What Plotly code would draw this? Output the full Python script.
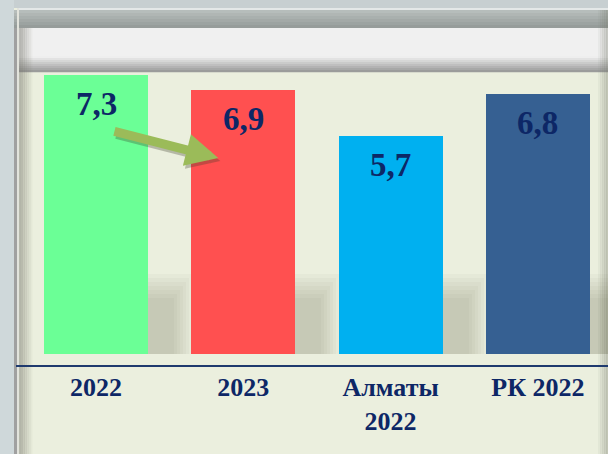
import plotly.graph_objects as go

# ---- data ----
categories = ["2022", "2023", "Алматы<br>2022", "РК 2022"]
values = [7.3, 6.9, 5.7, 6.8]
bar_colors = ["#6BFF96", "#FF5050", "#00B0F0", "#366092"]
value_labels = [f"{v:.1f}".replace(".", ",") for v in values]

# ---- styling ----
W, H = 608, 454
NAVY = "#0D2766"
BEIGE = "#EBEFDE"
FONT = "Liberation Serif"
xpos = list(range(len(categories)))

# pixel geometry of the plot area
PX_L, PX_R, PX_T, PX_B = 16, 608, 72, 365
CAT0_PX, CAT_STEP = 96, 147.3
BASE_PX, UNIT_PX = 354, 38.2
x_range = [(PX_L - CAT0_PX) / CAT_STEP, (PX_R - CAT0_PX) / CAT_STEP]
y_range = [-(PX_B - BASE_PX) / UNIT_PX, (BASE_PX - PX_T) / UNIT_PX]
BAR_W = 104 / CAT_STEP


def px(x):
    return x / W


def py(y):
    return 1 - y / H


def lerp(c0, c1, t):
    return "rgb(%d,%d,%d)" % tuple(round(a + (b - a) * t) for a, b in zip(c0, c1))


shapes = []


def rect(x0, y0, x1, y1, color, layer="below"):
    shapes.append(dict(type="rect", xref="paper", yref="paper",
                       x0=px(x0), x1=px(x1), y0=py(y1), y1=py(y0),
                       fillcolor=color, line=dict(width=0), layer=layer))


def vgrad(x0, y0, x1, y1, c0, c1, n, layer="below"):
    h = (y1 - y0) / n
    for i in range(n):
        rect(x0, y0 + i * h, x1, y0 + (i + 1) * h + 0.3, lerp(c0, c1, i / max(n - 1, 1)), layer)


def hgrad_alpha(x0, y0, x1, y1, rgb, a0, a1, n, layer="below"):
    w = (x1 - x0) / n
    for i in range(n):
        a = a0 + (a1 - a0) * i / max(n - 1, 1)
        rect(x0 + i * w, y0, x0 + (i + 1) * w + 0.3, y1,
             "rgba(%d,%d,%d,%.3f)" % (rgb + (a,)), layer)


# frame decoration
rect(0, 0, 14, H, "#CFD8DA")
rect(14, 0, W, 8, "#C7CFD1")
rect(17, 8, W, 10, "#E4E8E8")
vgrad(14, 10, W, 28, (182, 189, 187), (150, 156, 154), 6)
rect(14, 28, W, 56, "#F0F0F0")
vgrad(14, 56, W, 72, (238, 238, 238), (155, 156, 155), 8)
rect(14, 28, 17, H, "#A0A0A0")
rect(17, 8, 19, H, "#E2E3DC")
hgrad_alpha(19, 28, 34, H, (120, 120, 110), 0.45, 0.0, 8)
hgrad_alpha(596, 10, W, H, (120, 122, 110), 0.0, 0.35, 6)

fig = go.Figure()

# soft shadows behind bars (decoration)
for i in range(7):
    fig.add_trace(go.Bar(
        x=xpos, y=[(80 - 4 * i) / UNIT_PX] * len(xpos), base=0,
        width=BAR_W / 2 + (44 - 3 * i) / CAT_STEP, offset=0,
        marker=dict(color="rgba(60,65,40,0.032)", line=dict(width=0)),
        hoverinfo="skip", showlegend=False))

fig.add_trace(go.Bar(
    x=xpos, y=values, width=BAR_W,
    marker=dict(color=bar_colors, line=dict(width=0)),
    hoverinfo="skip", showlegend=False))

annotations = []
for xi, v, lab in zip(xpos, values, value_labels):
    annotations.append(dict(x=xi, y=v, xref="x", yref="y", text=lab, showarrow=False,
                            yanchor="top", yshift=-9,
                            font=dict(family=FONT, size=33, color=NAVY, weight="bold")))

# trend arrow from the 2022 bar towards the 2023 bar (with a soft shadow)
ARROW_TAIL = (0.115, 5.84)
ARROW_HEAD = (0.83, 5.13)
for dx, dy, col in [(2, -3, "rgba(60,60,40,0.30)"), (0, 0, "#9BBB59")]:
    annotations.append(dict(x=ARROW_HEAD[0], y=ARROW_HEAD[1], ax=ARROW_TAIL[0], ay=ARROW_TAIL[1],
                            xref="x", yref="y", axref="x", ayref="y", text="",
                            showarrow=True, arrowhead=2, arrowwidth=9, arrowsize=0.72,
                            arrowcolor=col, xshift=dx, yshift=dy))

fig.update_layout(
    width=W, height=H, margin=dict(l=0, r=0, t=0, b=0),
    paper_bgcolor=BEIGE, plot_bgcolor="rgba(0,0,0,0)",
    barmode="overlay", bargap=0,
    shapes=shapes, annotations=annotations,
    xaxis=dict(domain=[px(PX_L), 1], range=x_range, tickmode="array",
               tickvals=xpos, ticktext=categories, showgrid=False, zeroline=False,
               showline=True, linecolor="#1F3A6E", linewidth=2, ticks="",
               tickfont=dict(family=FONT, size=26, color=NAVY, weight="bold"),
               ticklabelstandoff=-2, fixedrange=True),
    yaxis=dict(domain=[py(PX_B), py(PX_T)], range=y_range, visible=False,
               showgrid=False, zeroline=False, fixedrange=True),
)

fig.write_html("out.html", config={"displayModeBar": False},
               post_script="document.body.style.margin='0';document.body.style.overflow='hidden';")
